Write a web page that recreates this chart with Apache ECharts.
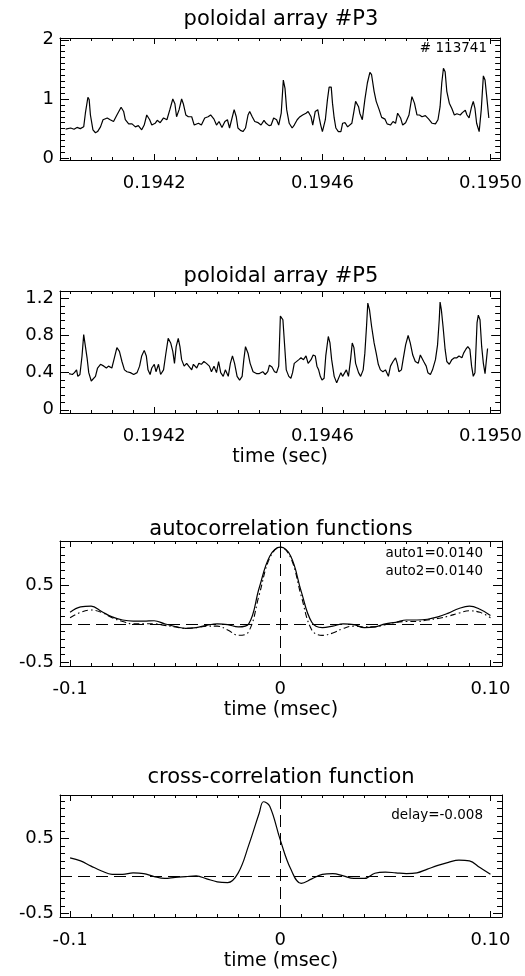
<!DOCTYPE html>
<html><head><meta charset="utf-8">
<script src="https://cdn.jsdelivr.net/npm/echarts@6/dist/echarts.min.js"></script>
<style>html,body{margin:0;padding:0;background:#fff}#c{width:525px;height:976px}</style>
</head><body><div id="c"></div>
<script>
// ---------- DATA ----------
// poloidal array #P3 : time in microseconds, signal
const p3Time = [
193989,194001,194009,194016,194024,194032,194036,194042,194045,194048,
194054,194060,194065,194072,194078,194088,194095,194103,194111,194121,
194127,194131,194139,194147,194155,194162,194170,194176,194182,194189,
194194,194202,194207,194214,194222,194230,194237,194244,194249,194253,
194259,194265,194269,194275,194281,194289,194295,194305,194312,194320,
194328,194334,194342,194348,194354,194361,194368,194374,194379,194383,
194390,194395,194399,194405,194411,194417,194423,194427,194433,194439,
194447,194454,194461,194466,194473,194478,194484,194491,194496,194502,
194507,194511,194515,194521,194528,194533,194540,194545,194553,194561,
194566,194573,194577,194583,194589,194592,194596,194600,194607,194612,
194616,194621,194624,194628,194632,194638,194644,194648,194654,194660,
194664,194670,194675,194679,194686,194689,194695,194701,194707,194713,
194717,194723,194728,194735,194741,194749,194754,194762,194768,194774,
194779,194786,194791,194798,194806,194813,194819,194825,194831,194837,
194845,194853,194861,194869,194875,194880,194884,194888,194892,194896,
194902,194908,194914,194920,194928,194933,194940,194944,194949,194955,
194959,194963,194967,194973,194978,194983,194987,194991,194996];
const p3Val = [
0.49,0.51,0.49,0.52,0.50,0.53,0.76,1.03,0.99,0.73,
0.48,0.43,0.45,0.53,0.65,0.68,0.65,0.62,0.73,0.86,
0.79,0.65,0.58,0.58,0.53,0.55,0.48,0.56,0.73,0.65,
0.56,0.59,0.64,0.60,0.68,0.65,0.82,1.00,0.92,0.70,
0.82,1.00,0.92,0.73,0.70,0.70,0.56,0.59,0.56,0.68,
0.70,0.73,0.66,0.56,0.62,0.52,0.62,0.65,0.51,0.48,
0.82,0.70,0.51,0.47,0.45,0.51,0.73,0.79,0.70,0.62,
0.60,0.56,0.64,0.59,0.55,0.56,0.68,0.65,0.56,0.76,
1.32,1.18,0.82,0.59,0.51,0.56,0.65,0.69,0.73,0.76,
0.79,0.70,0.56,0.79,0.82,0.70,0.56,0.45,0.65,0.99,
1.20,1.20,0.93,0.68,0.51,0.45,0.45,0.59,0.60,0.53,
0.56,0.59,0.79,0.96,0.87,0.76,0.65,0.99,1.27,1.45,
1.41,1.13,0.96,0.82,0.69,0.66,0.58,0.56,0.62,0.59,
0.76,0.68,0.56,0.60,0.73,1.04,0.93,0.73,0.73,0.70,
0.72,0.66,0.59,0.58,0.65,0.87,1.27,1.52,1.46,1.13,
0.93,0.84,0.73,0.75,0.73,0.77,0.81,0.73,0.68,0.87,
0.96,0.84,0.59,0.45,0.82,1.39,1.32,1.04,0.68];

// poloidal array #P5 : time in microseconds, signal
const p5Time = [
193997,194005,194010,194015,194018,194023,194028,194032,194036,194040,
194044,194050,194054,194060,194065,194072,194080,194086,194091,194099,
194105,194111,194117,194123,194129,194135,194143,194151,194159,194165,
194170,194176,194181,194185,194190,194194,194200,194204,194210,194215,
194222,194227,194233,194239,194244,194248,194252,194257,194261,194265,
194271,194277,194282,194289,194293,194301,194306,194312,194318,194324,
194331,194336,194342,194348,194353,194358,194364,194369,194376,194381,
194386,194391,194397,194403,194409,194413,194417,194423,194428,194435,
194443,194450,194458,194464,194470,194474,194480,194486,194491,194496,
194500,194503,194506,194510,194514,194520,194525,194529,194533,194537,
194544,194549,194555,194561,194566,194573,194578,194583,194587,194591,
194595,194599,194604,194608,194614,194618,194622,194628,194634,194638,
194644,194648,194652,194657,194662,194667,194671,194675,194679,194686,
194691,194697,194701,194705,194708,194712,194717,194723,194728,194733,
194738,194744,194750,194757,194762,194768,194774,194778,194782,194788,
194792,194798,194804,194809,194815,194821,194828,194833,194837,194841,
194847,194851,194857,194862,194869,194874,194878,194880,194883,194887,
194892,194896,194902,194908,194914,194920,194925,194932,194936,194941,
194946,194951,194955,194959,194963,194966,194968,194971,194975,194979,
194983,194987,194991,194993];
const p5Val = [
0.39,0.38,0.40,0.43,0.36,0.38,0.58,0.81,0.79,0.56,
0.40,0.31,0.29,0.36,0.45,0.49,0.47,0.45,0.47,0.45,
0.56,0.67,0.63,0.52,0.43,0.41,0.40,0.38,0.40,0.47,
0.58,0.64,0.58,0.43,0.38,0.45,0.49,0.41,0.49,0.38,
0.43,0.59,0.77,0.72,0.63,0.50,0.68,0.77,0.68,0.54,
0.47,0.50,0.47,0.43,0.49,0.45,0.50,0.49,0.52,0.50,
0.47,0.41,0.47,0.40,0.52,0.40,0.36,0.43,0.36,0.50,
0.58,0.50,0.36,0.32,0.36,0.54,0.68,0.61,0.50,0.41,
0.39,0.39,0.41,0.38,0.41,0.48,0.46,0.41,0.40,0.47,
1.01,1.02,0.97,0.70,0.43,0.36,0.34,0.40,0.50,0.52,
0.54,0.56,0.54,0.58,0.50,0.54,0.59,0.58,0.47,0.43,
0.36,0.32,0.34,0.58,0.79,0.72,0.54,0.36,0.29,0.27,
0.40,0.36,0.34,0.43,0.36,0.54,0.72,0.67,0.50,0.40,
0.36,0.43,0.61,0.90,1.15,1.08,0.90,0.72,0.61,0.49,
0.43,0.41,0.43,0.36,0.47,0.52,0.56,0.50,0.41,0.43,
0.54,0.70,0.80,0.72,0.59,0.52,0.50,0.59,0.61,0.52,
0.47,0.40,0.38,0.43,0.54,0.70,0.97,1.16,1.08,0.90,
0.65,0.52,0.49,0.54,0.56,0.56,0.58,0.56,0.61,0.65,
0.68,0.65,0.47,0.36,0.40,0.72,0.94,1.02,0.97,0.68,
0.50,0.39,0.40,0.66];

// autocorrelation functions (lag in msec)
const autoLag = [
-0.100,-0.095,-0.090,-0.085,-0.080,-0.075,-0.070,-0.065,-0.060,-0.055,
-0.050,-0.045,-0.040,-0.035,-0.030,-0.025,-0.020,-0.015,-0.010,-0.005,
0.000,0.005,0.010,0.015,0.020,0.025,0.030,0.035,0.040,0.045,
0.050,0.055,0.060,0.065,0.070,0.075,0.080,0.085,0.090,0.095,0.100];
const auto1 = [
0.15,0.22,0.23,0.16,0.09,0.05,0.035,0.035,0.04,0.0,
-0.035,-0.06,-0.05,-0.02,0.0,-0.01,-0.04,0.0,0.47,0.88,
1.0,0.88,0.42,0.02,-0.05,-0.03,0.0,-0.01,-0.05,-0.04,
0.0,0.02,0.05,0.05,0.06,0.09,0.14,0.20,0.23,0.19,0.11];
const auto2 = [
0.08,0.15,0.18,0.15,0.08,0.03,0.0,0.0,0.0,-0.02,
-0.04,-0.06,-0.05,-0.03,-0.03,-0.08,-0.15,-0.10,0.38,0.86,
1.0,0.86,0.36,-0.08,-0.15,-0.12,-0.06,-0.03,-0.04,-0.04,
-0.01,0.02,0.03,0.03,0.05,0.07,0.10,0.14,0.17,0.15,0.08];

// cross-correlation function (lag in msec)
const crossLag = [
-0.100,-0.095,-0.090,-0.085,-0.080,-0.075,-0.070,-0.065,-0.060,-0.055,
-0.050,-0.045,-0.040,-0.035,-0.030,-0.025,-0.020,-0.015,-0.010,-0.008,
-0.005,0.000,0.005,0.010,0.015,0.020,0.025,0.030,0.035,0.040,
0.045,0.050,0.055,0.060,0.065,0.070,0.075,0.080,0.085,0.090,0.095,0.100];
const crossVal = [
0.24,0.20,0.13,0.065,0.02,0.02,0.04,0.03,-0.01,-0.035,
-0.02,-0.01,0.0,-0.04,-0.08,-0.09,0.04,0.41,0.84,0.99,
0.93,0.48,0.09,-0.10,-0.04,0.02,0.03,0.0,-0.035,-0.035,
0.035,0.05,0.04,0.03,0.04,0.09,0.14,0.18,0.21,0.20,0.11,0.02];

// tick labels
const timeTickVals = [194200, 194600, 195000];
const timeTickLabels = ['0.1942', '0.1946', '0.1950'];
const p3TickVals = [0, 1, 2];
const p3TickLabels = ['0', '1', '2'];
const p5TickVals = [0, 0.4, 0.8, 1.2];
const p5TickLabels = ['0', '0.4', '0.8', '1.2'];
const corrTickVals = [-0.5, 0.5];
const corrTickLabels = ['-0.5', '0.5'];
const lagTickVals = [-0.1, 0, 0.1];
const lagTickLabels = ['-0.1', '0', '0.10'];

const titles = ['poloidal array #P3', 'poloidal array #P5', 'autocorrelation functions', 'cross-correlation function'];

// ---------- CHART ----------
const FONT = 'DejaVu Sans';
function range(a, b, s) { const o = []; const n = Math.round((b - a) / s); for (let i = 0; i <= n; i++) o.push(+(a + i * s).toFixed(6)); return o; }
function lookup(vals, labels, v) { for (let i = 0; i < vals.length; i++) if (Math.abs(vals[i] - v) < 1e-6) return labels[i]; return ''; }

const grids = [
  {left: 60, right: 23, top: 38, height: 122},
  {left: 60, right: 23, top: 291, height: 122},
  {left: 60, right: 23, top: 541, height: 125},
  {left: 60, right: 23, top: 795, height: 122}
];
const panels = [
  {xMin: 193975.6, xMax: 195023, xMinor: range(194000, 195000, 50), xMajor: timeTickVals, xLV: timeTickVals, xL: timeTickLabels, xName: '',
   yMin: -0.03, yMax: 2.03, yMinor: range(0, 2, 0.1), yMajor: p3TickVals, yLV: p3TickVals, yL: p3TickLabels},
  {xMin: 193975.6, xMax: 195023, xMinor: range(194000, 195000, 50), xMajor: timeTickVals, xLV: timeTickVals, xL: timeTickLabels, xName: 'time (sec)',
   yMin: -0.035, yMax: 1.28, yMinor: range(0, 1.2, 0.08), yMajor: p5TickVals, yLV: p5TickVals, yL: p5TickLabels},
  {xMin: -0.1048, xMax: 0.1055, xMinor: range(-0.1, 0.1, 0.01), xMajor: lagTickVals, xLV: lagTickVals, xL: lagTickLabels, xName: 'time (msec)',
   yMin: -0.55, yMax: 1.08, yMinor: range(-0.5, 1.0, 0.1), yMajor: corrTickVals, yLV: corrTickVals, yL: corrTickLabels},
  {xMin: -0.1048, xMax: 0.1055, xMinor: range(-0.1, 0.1, 0.01), xMajor: lagTickVals, xLV: lagTickVals, xL: lagTickLabels, xName: 'time (msec)',
   yMin: -0.55, yMax: 1.08, yMinor: range(-0.5, 1.0, 0.1), yMajor: corrTickVals, yLV: corrTickVals, yL: corrTickLabels}
];

const xAxes = [], yAxes = [], mainX = [], mainY = [];
const ls = {color: '#000', width: 1};
const lblStyle = {fontFamily: FONT, fontSize: 18, color: '#000'};
const noLine = {show: false, onZero: false};
panels.forEach((P, gi) => {
  mainX.push(xAxes.length);
  const xb = {gridIndex: gi, type: 'value', min: P.xMin, max: P.xMax, splitLine: {show: false}};
  xAxes.push(Object.assign({}, xb, {position: 'bottom',
    axisLine: {show: true, onZero: false, lineStyle: ls},
    axisTick: {show: true, inside: true, length: 6, customValues: P.xMajor, lineStyle: ls},
    axisLabel: Object.assign({show: true, margin: 14, customValues: P.xLV, formatter: v => lookup(P.xLV, P.xL, v)}, lblStyle),
    name: P.xName, nameLocation: 'middle', nameGap: 35,
    nameTextStyle: {fontFamily: FONT, fontSize: 19, color: '#000'}}));
  xAxes.push(Object.assign({}, xb, {position: 'bottom', axisLine: noLine,
    axisTick: {show: true, inside: true, length: 3, customValues: P.xMinor, lineStyle: ls}, axisLabel: {show: false}}));
  xAxes.push(Object.assign({}, xb, {position: 'top', axisLine: {show: true, onZero: false, lineStyle: ls},
    axisTick: {show: true, inside: true, length: 6, customValues: P.xMajor, lineStyle: ls}, axisLabel: {show: false}}));
  xAxes.push(Object.assign({}, xb, {position: 'top', axisLine: noLine,
    axisTick: {show: true, inside: true, length: 3, customValues: P.xMinor, lineStyle: ls}, axisLabel: {show: false}}));

  mainY.push(yAxes.length);
  const yb = {gridIndex: gi, type: 'value', min: P.yMin, max: P.yMax, splitLine: {show: false}};
  yAxes.push(Object.assign({}, yb, {position: 'left',
    axisLine: {show: true, onZero: false, lineStyle: ls},
    axisTick: {show: true, inside: true, length: 9, customValues: P.yMajor, lineStyle: ls},
    axisLabel: Object.assign({show: true, margin: 6, customValues: P.yLV, formatter: v => lookup(P.yLV, P.yL, v)}, lblStyle)}));
  yAxes.push(Object.assign({}, yb, {position: 'left', axisLine: noLine,
    axisTick: {show: true, inside: true, length: 5, customValues: P.yMinor, lineStyle: ls}, axisLabel: {show: false}}));
  yAxes.push(Object.assign({}, yb, {position: 'right', axisLine: {show: true, onZero: false, lineStyle: ls},
    axisTick: {show: true, inside: true, length: 9, customValues: P.yMajor, lineStyle: ls}, axisLabel: {show: false}}));
  yAxes.push(Object.assign({}, yb, {position: 'right', axisLine: noLine,
    axisTick: {show: true, inside: true, length: 5, customValues: P.yMinor, lineStyle: ls}, axisLabel: {show: false}}));
});

const lineBase = {type: 'line', showSymbol: false, symbol: 'none', silent: true, animation: false};
const zeroLines = {
  silent: true, symbol: 'none', animation: false,
  label: {show: false},
  lineStyle: {color: '#000', width: 1, type: [12, 6]},
  data: [{yAxis: 0}, {xAxis: 0}]
};
const series = [
  Object.assign({}, lineBase, {name: 'P3', xAxisIndex: mainX[0], yAxisIndex: mainY[0],
    data: p3Time.map((t, i) => [t, p3Val[i]]), lineStyle: {color: '#000', width: 1.2}}),
  Object.assign({}, lineBase, {name: 'P5', xAxisIndex: mainX[1], yAxisIndex: mainY[1],
    data: p5Time.map((t, i) => [t, p5Val[i]]), lineStyle: {color: '#000', width: 1.2}}),
  Object.assign({}, lineBase, {name: 'auto1', xAxisIndex: mainX[2], yAxisIndex: mainY[2], smooth: 0.4,
    data: autoLag.map((t, i) => [t, auto1[i]]), lineStyle: {color: '#000', width: 1.2}, markLine: zeroLines}),
  Object.assign({}, lineBase, {name: 'auto2', xAxisIndex: mainX[2], yAxisIndex: mainY[2], smooth: 0.4,
    data: autoLag.map((t, i) => [t, auto2[i]]), lineStyle: {color: '#000', width: 1.1, type: [6, 3, 1.5, 3]}}),
  Object.assign({}, lineBase, {name: 'cross', xAxisIndex: mainX[3], yAxisIndex: mainY[3], smooth: 0.4,
    data: crossLag.map((t, i) => [t, crossVal[i]]), lineStyle: {color: '#000', width: 1.2}, markLine: zeroLines})
];

function txt(x, y, s, size, align) {
  return {type: 'text', x: x, y: y, silent: true,
    style: {text: s, fill: '#000', font: size + 'px "' + FONT + '"', fontSize: size, fontFamily: FONT,
      textAlign: align, textVerticalAlign: 'middle', align: align, verticalAlign: 'middle'}};
}
const titleY = [19.5, 277, 529.5, 778];
const graphics = titles.map((t, i) => txt(281, titleY[i], t, 21, 'center'));
graphics.push(txt(487, 48, '# 113741', 13.5, 'right'));
graphics.push(txt(483, 553, 'auto1=0.0140', 13.5, 'right'));
graphics.push(txt(483, 571.5, 'auto2=0.0140', 13.5, 'right'));
graphics.push(txt(483, 815, 'delay=-0.008', 13.5, 'right'));

const chart = echarts.init(document.getElementById('c'), null, {renderer: 'canvas'});
chart.setOption({
  animation: false,
  backgroundColor: '#fff',
  textStyle: {fontFamily: FONT},
  grid: grids,
  xAxis: xAxes,
  yAxis: yAxes,
  series: series,
  graphic: graphics
});
</script></body></html>
